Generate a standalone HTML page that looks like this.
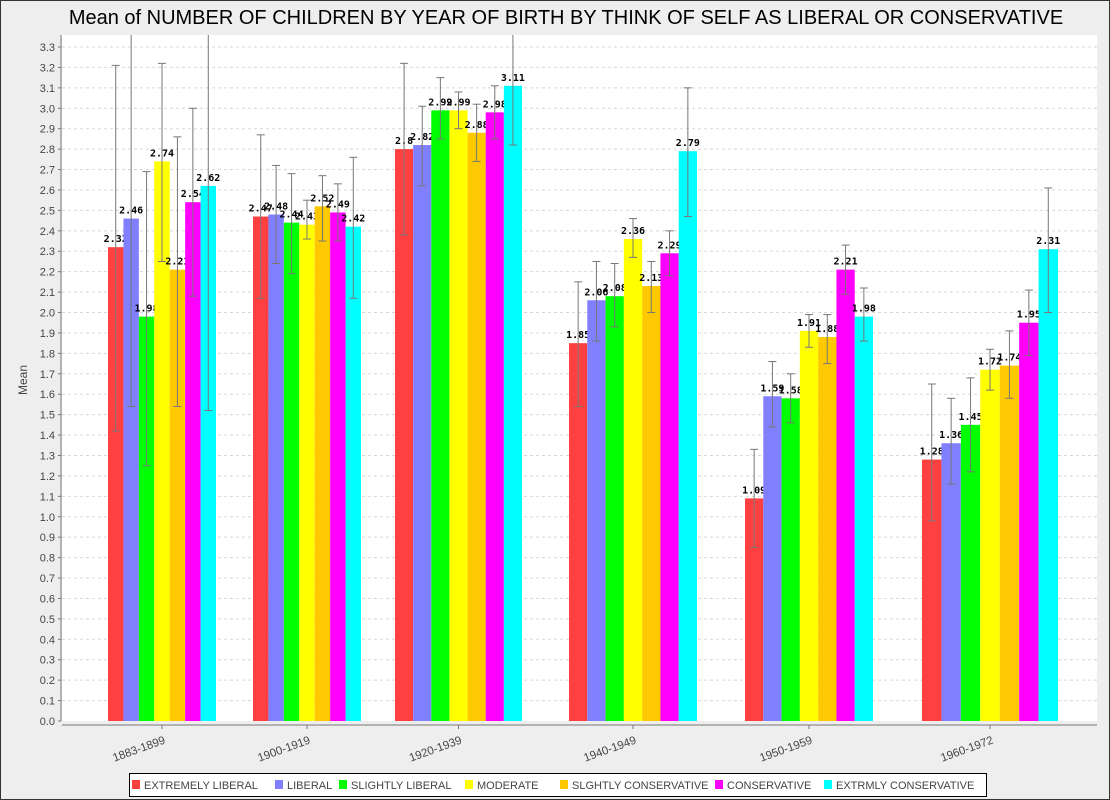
<!DOCTYPE html>
<html><head><meta charset="utf-8"><style>
html,body{margin:0;padding:0;background:#eeeeee;}
svg{display:block;}
</style></head><body>
<svg id="s" width="1110" height="800" xmlns="http://www.w3.org/2000/svg" font-family="Liberation Sans, sans-serif"></svg>
<script>
const s=document.getElementById('s');
let h='';
h+='<rect x="0.5" y="0.5" width="1109" height="799" fill="#eeeeee" stroke="#333"/>';
h+='<text x="566" y="24" font-size="20" text-anchor="middle" fill="#000">Mean of NUMBER OF CHILDREN BY YEAR OF BIRTH BY THINK OF SELF AS LIBERAL OR CONSERVATIVE</text>';
const L=62,T=35,R=1097,B=721;
h+=`<rect x="${L}" y="${T}" width="${R-L}" height="${B-T}" fill="#fff"/>`;
const Y=v=>B-v*204.24;
for(let i=0;i<=33;i++){const y=Y(i/10);
 if(i>0)h+=`<line x1="${L}" x2="${R}" y1="${y}" y2="${y}" stroke="#d8d8d8" stroke-dasharray="3,3"/>`;
 h+=`<line x1="${L-4}" x2="${L-1}" y1="${y}" y2="${y}" stroke="#777"/>`;
 h+=`<text x="${L-7}" y="${y+4}" font-size="11" text-anchor="end" fill="#444">${(i/10).toFixed(1)}</text>`;}
h+=`<line x1="${L-1}" x2="${L-1}" y1="${T}" y2="${B}" stroke="#777"/>`;
h+=`<line x1="${L}" x2="${R}" y1="${B+4}" y2="${B+4}" stroke="#777"/>`;
h+=`<text transform="translate(27,380) rotate(-90)" font-size="12" text-anchor="middle" fill="#444">Mean</text>`;
const cols=['#ff4040','#8080ff','#00ff00','#ffff00','#ffc800','#ff00ff','#00ffff'];
const groups=[
 ['1883-1899',108,216,[[2.32,1.42,3.21],[2.46,1.54,3.5],[1.98,1.25,2.69],[2.74,2.25,3.22],[2.21,1.54,2.86],[2.54,2.08,3.0],[2.62,1.52,3.5]]],
 ['1900-1919',253,361,[[2.47,2.07,2.87],[2.48,2.24,2.72],[2.44,2.19,2.68],[2.43,2.36,2.55],[2.52,2.35,2.67],[2.49,2.35,2.63],[2.42,2.07,2.76]]],
 ['1920-1939',395,522,[[2.8,2.38,3.22],[2.82,2.62,3.01],[2.99,2.85,3.15],[2.99,2.9,3.08],[2.88,2.74,3.02],[2.98,2.85,3.11],[3.11,2.82,3.5]]],
 ['1940-1949',569,697,[[1.85,1.54,2.15],[2.06,1.86,2.25],[2.08,1.93,2.24],[2.36,2.27,2.46],[2.13,2.0,2.25],[2.29,2.18,2.40],[2.79,2.47,3.10]]],
 ['1950-1959',745,873,[[1.09,0.85,1.33],[1.59,1.44,1.76],[1.58,1.46,1.70],[1.91,1.83,1.99],[1.88,1.75,1.99],[2.21,2.09,2.33],[1.98,1.86,2.12]]],
 ['1960-1972',922,1058,[[1.28,0.98,1.65],[1.36,1.16,1.58],[1.45,1.22,1.68],[1.72,1.62,1.82],[1.74,1.58,1.91],[1.95,1.79,2.11],[2.31,2.0,2.61]]]];
let eb='';
for(const [name,x0,x1,d] of groups){
 const w=(x1-x0)/7;
 d.forEach((v,i)=>{const x=x0+i*w,y=Y(v[0]);
  h+=`<rect x="${x}" y="${y}" width="${w}" height="${B-y}" fill="${cols[i]}"/>`;
  let lab=v[0].toFixed(2);if(lab.endsWith('0'))lab=lab.slice(0,-1);
  h+=`<text x="${x+w/2}" y="${y-5}" font-size="10" font-weight="bold" font-family="DejaVu Sans Mono, monospace" text-anchor="middle" fill="#000">${lab}</text>`;
  const cx=x+w/2,y1=Math.max(Y(v[2]),T),y2=Y(v[1]);
  eb+=`<line x1="${cx}" x2="${cx}" y1="${y1}" y2="${y2}" stroke="#777"/>`;
  if(v[2]<3.4)eb+=`<line x1="${cx-4}" x2="${cx+4}" y1="${y1}" y2="${y1}" stroke="#777"/>`;
  eb+=`<line x1="${cx-4}" x2="${cx+4}" y1="${y2}" y2="${y2}" stroke="#777"/>`;
 });
 const c=(x0+x1)/2;
 h+=`<line x1="${c}" x2="${c}" y1="${B+4}" y2="${B+8}" stroke="#777"/>`;
 h+=`<text transform="translate(${c+4},${B+22}) rotate(-20)" font-size="11.5" text-anchor="end" fill="#444">${name}</text>`;
}
h+=eb;
h+='<rect x="129.5" y="773.5" width="857" height="23" fill="#fff" stroke="#000"/>';
const lg=[['EXTREMELY LIBERAL',132],['LIBERAL',275],['SLIGHTLY LIBERAL',339],['MODERATE',465],['SLGHTLY CONSERVATIVE',560],['CONSERVATIVE',715],['EXTRMLY CONSERVATIVE',824]];
lg.forEach(([t,x],i)=>{h+=`<rect x="${x}" y="780" width="8" height="9" fill="${cols[i]}"/>`;
 h+=`<text x="${x+12}" y="789" font-size="11" fill="#444">${t}</text>`;});
s.innerHTML=h;
</script>
</body></html>
